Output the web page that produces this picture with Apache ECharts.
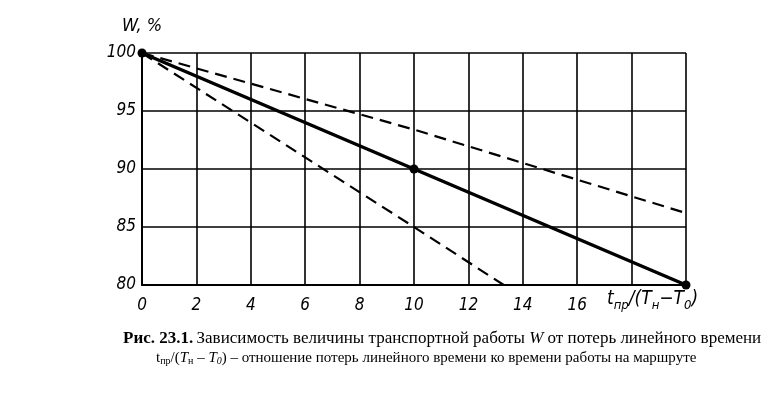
<!DOCTYPE html>
<html><head><meta charset="utf-8">
<script src="https://cdn.jsdelivr.net/npm/echarts@6/dist/echarts.min.js"></script>
<style>html,body{margin:0;padding:0;background:#fff}#c{width:783px;height:393px}</style>
</head><body><div id="c"></div>
<script>
const xTicks = [0, 2, 4, 6, 8, 10, 12, 14, 16, 18, 20];
const yTicks = [80, 85, 90, 95, 100];
const solidX = [0, 10, 20];
const solidW = [100, 90, 80];
const upperX = [0, 10, 20];
const upperW = [100, 93.4, 86.2];
const lowerX = [0, 10, 13.3];
const lowerW = [100, 85, 80];

const pairs = (xs, ys) => xs.map((x, i) => [x, ys[i]]);
const axisFont = '"Liberation Sans Narrow", "DejaVu Sans Condensed", "Liberation Sans", sans-serif';
const serif = '"Liberation Serif", serif';

const chart = echarts.init(document.getElementById('c'));
chart.setOption({
  animation: false,
  backgroundColor: '#fff',
  grid: { left: 142, right: 97, top: 53, bottom: 108 },
  xAxis: {
    type: 'value', min: 0, max: 20, interval: 2,
    axisLine: { show: true, lineStyle: { color: '#000', width: 2 } },
    axisTick: { show: false },
    splitLine: { show: true, lineStyle: { color: '#000', width: 1.6 } },
    axisLabel: {
      color: '#000', fontSize: 17, fontStyle: 'italic', fontFamily: axisFont, margin: 12,
      formatter: v => (v >= 18 ? '' : String(v))
    }
  },
  yAxis: {
    type: 'value', min: 80, max: 100, interval: 5,
    name: 'W, %', nameLocation: 'end', nameGap: 18,
    nameTextStyle: { color: '#000', fontSize: 18, fontStyle: 'italic', fontFamily: axisFont, align: 'center' },
    axisLine: { show: true, lineStyle: { color: '#000', width: 2 } },
    axisTick: { show: false },
    splitLine: { show: true, lineStyle: { color: '#000', width: 1.6 } },
    axisLabel: { color: '#000', fontSize: 17, fontStyle: 'italic', fontFamily: axisFont, margin: 6 }
  },
  series: [
    { type: 'line', data: pairs(upperX, upperW), symbol: 'none',
      lineStyle: { color: '#000', width: 2.2, type: [12, 7] } },
    { type: 'line', data: pairs(lowerX, lowerW), symbol: 'none',
      lineStyle: { color: '#000', width: 2.2, type: [12, 7] } },
    { type: 'line', data: pairs(solidX, solidW), symbol: 'circle', symbolSize: 9,
      itemStyle: { color: '#000' }, lineStyle: { color: '#000', width: 3.5 } }
  ],
  graphic: [
    { type: 'text', left: 607, top: 290,
      style: {
        text: '{i|t}{s|пр}{i|/(T}{s|н}{i|−T}{s|0}{i|)}',
        rich: {
          i: { fontSize: 19, fontStyle: 'italic', fontFamily: axisFont, fill: '#000', verticalAlign: 'bottom', height: 24 },
          s: { fontSize: 13, fontStyle: 'italic', fontFamily: axisFont, fill: '#000', verticalAlign: 'bottom', height: 24, padding: [0, 0, -6, 0] }
        }
      } },
    { type: 'text', left: 123, top: 330,
      style: {
        text: '{b|Рис. 23.1.} {r|Зависимость величины транспортной работы }{ri|W}{r| от потерь линейного времени}',
        rich: {
          b: { fontSize: 17, fontWeight: 'bold', fontFamily: serif, fill: '#000' },
          r: { fontSize: 17, fontFamily: serif, fill: '#000' },
          ri: { fontSize: 17, fontStyle: 'italic', fontFamily: serif, fill: '#000' }
        }
      } },
    { type: 'text', left: 156, top: 351,
      style: {
        text: '{r|t}{s|пр}{r|/(}{i|T}{s|н}{r| – }{i|T}{si|0}{r|) – отношение потерь линейного времени ко времени работы на маршруте}',
        rich: {
          r: { fontSize: 15, fontFamily: serif, fill: '#000', verticalAlign: 'bottom', height: 20 },
          i: { fontSize: 15, fontStyle: 'italic', fontFamily: serif, fill: '#000', verticalAlign: 'bottom', height: 20 },
          s: { fontSize: 10, fontFamily: serif, fill: '#000', verticalAlign: 'bottom', height: 20, padding: [0, 0, -3, 0] },
          si: { fontSize: 10, fontStyle: 'italic', fontFamily: serif, fill: '#000', verticalAlign: 'bottom', height: 20, padding: [0, 0, -3, 0] }
        }
      } }
  ]
});
</script></body></html>
